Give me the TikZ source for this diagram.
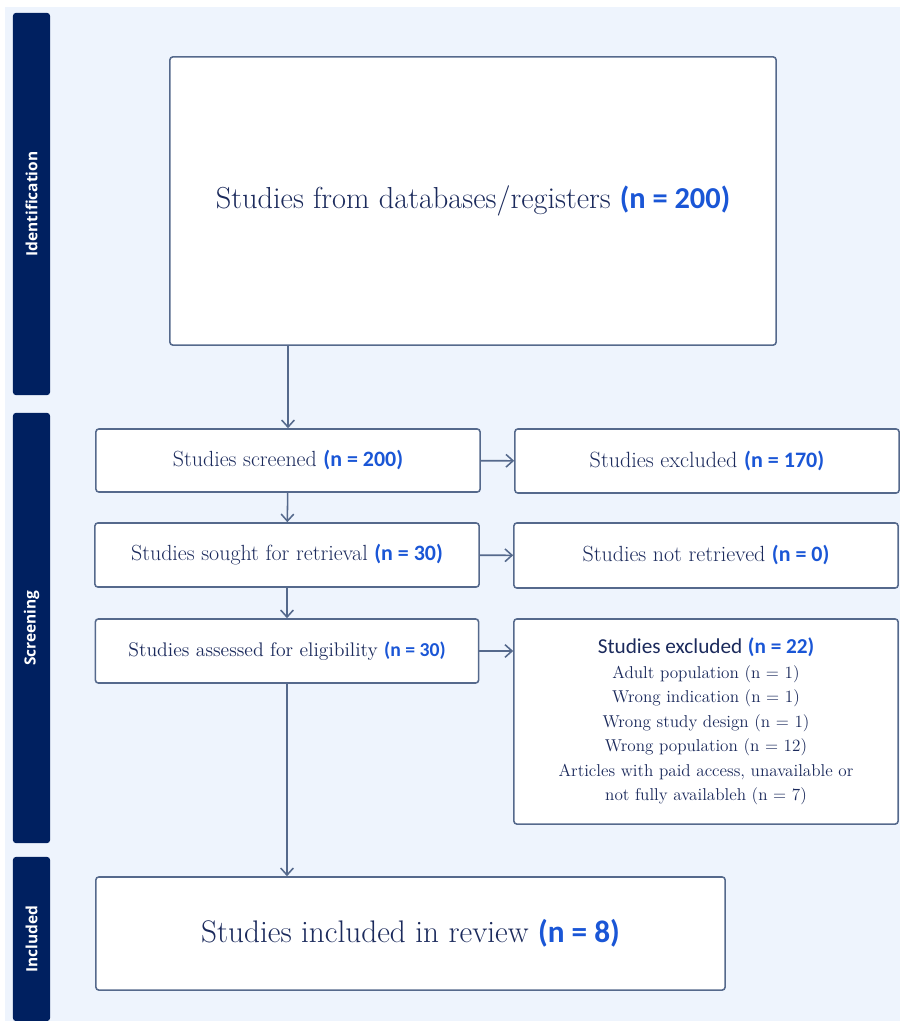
\documentclass[tikz,border=0pt]{standalone}
\usepackage{fontspec}
\newfontfamily\nfont{Carlito}
\newfontfamily\barfont{Open Sans}
\usepackage{tikz}
\usetikzlibrary{arrows.meta,positioning}
\definecolor{bgblue}{HTML}{EEF4FD}
\definecolor{navy}{HTML}{002060}
\definecolor{edge}{HTML}{55698C}
\definecolor{txt}{HTML}{1B2A5C}
\definecolor{nblue}{HTML}{1A56D6}
\newcommand{\nval}[1]{{\nfont\bfseries\color{nblue}(n = #1)}}

\begin{document}
\begin{tikzpicture}[x=0.025cm,y=-0.025cm,>={Straight Barb[length=5pt,width=9pt]},
 box/.style={draw=edge,line width=1.1pt,fill=white,rounded corners=2pt,align=center,text=txt,inner sep=2pt},
 bar/.style={fill=navy,rounded corners=2pt,rotate=90,text=white,font=\barfont\bfseries\fontsize{11}{13}\selectfont,inner sep=0pt},
 link/.style={->,draw=edge,line width=1.1pt}]
\useasboundingbox (0,0) rectangle (900,1021);
\fill[bgblue] (5,7) rectangle (900,1021);
% side bars
\node[bar,minimum width=9.55cm,minimum height=0.925cm] (idbar) at (31.5,204) {Identification};
\node[bar,minimum width=10.75cm,minimum height=0.925cm] (scbar) at (31.5,628) {Screening};
\node[bar,minimum width=4.1cm,minimum height=0.925cm] (inbar) at (31.5,939) {Included};
% boxes
\node[box,minimum width=15.15cm,minimum height=7.2cm,font=\fontsize{21.6}{26}\selectfont] (ident) at (473,201)
 {Studies from databases/registers \nval{200}};
\node[box,minimum width=9.6cm,minimum height=1.575cm,font=\fontsize{15.6}{18}\selectfont] (screened) at (288,460.5)
 {Studies screened \nval{200}};
\node[box,minimum width=9.6cm,minimum height=1.6cm,font=\fontsize{15.7}{18}\selectfont] (excl) at (707,461)
 {Studies excluded \nval{170}};
\node[box,minimum width=9.6cm,minimum height=1.6cm,font=\fontsize{15.6}{18}\selectfont] (sought) at (287,555)
 {Studies sought for retrieval \nval{30}};
\node[box,minimum width=9.6cm,minimum height=1.625cm,font=\fontsize{15.6}{18}\selectfont] (notret) at (706,555.5)
 {Studies not retrieved \nval{0}};
\node[box,minimum width=9.575cm,minimum height=1.6cm,font=\fontsize{14}{16}\selectfont] (assessed) at (287,651)
 {Studies assessed for eligibility \nval{30}};
\node[box,minimum width=9.6cm,minimum height=5.125cm,font=\fontsize{12.2}{17.4}\selectfont] (reasons) at (706,721.5)
 {{\nfont\fontsize{15.1}{17}\selectfont Studies excluded} {\fontsize{15.1}{17}\selectfont\nval{22}}\\
 Adult population (n = 1)\\
 Wrong indication (n = 1)\\
 Wrong study design (n = 1)\\
 Wrong population (n = 12)\\
 Articles with paid access, unavailable or\\
 not fully availableh (n = 7)};
\node[box,minimum width=15.725cm,minimum height=2.825cm,font=\fontsize{22.2}{26}\selectfont] (incl) at (410.5,933.5)
 {Studies included in review \nval{8}};
% connectors
\draw[link] (screened.north |- ident.south) -- (screened.north);
\draw[link] (screened) -- (sought);
\draw[link] (sought) -- (assessed);
\draw[link] (assessed.south) -- (assessed.south |- incl.north);
\draw[link] (screened) -- (excl);
\draw[link] (sought) -- (notret);
\draw[link] (assessed) -- (assessed -| reasons.west);
\end{tikzpicture}
\end{document}
